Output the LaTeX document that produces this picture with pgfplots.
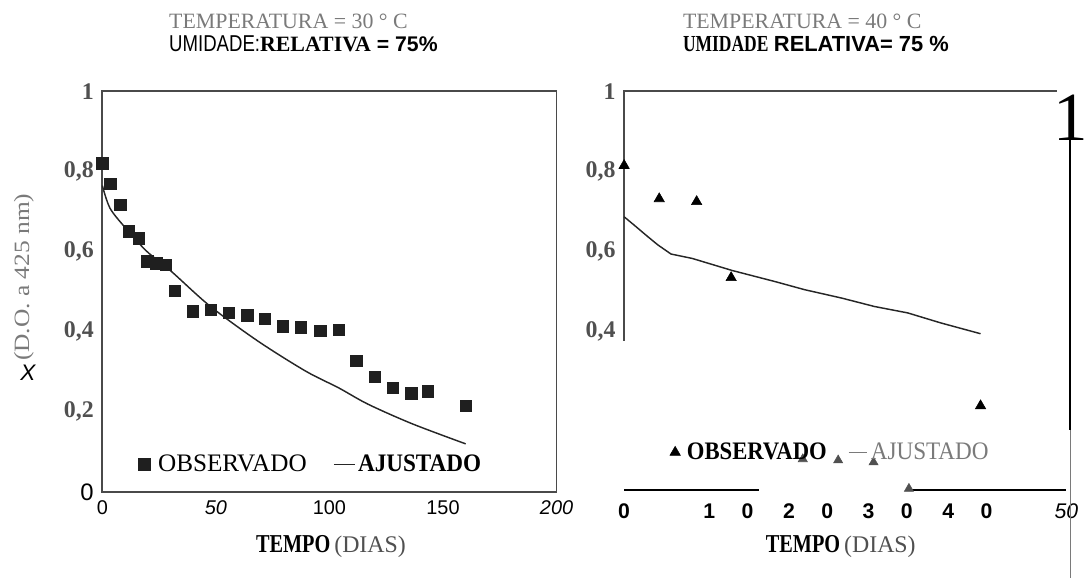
\documentclass[border=0pt]{standalone}
\usepackage{fontspec}
\setmainfont{Liberation Serif}
\setsansfont{Liberation Sans}
\usepackage{graphicx}
\usepackage{pgfplots}
\pgfplotsset{compat=1.18}
\definecolor{tg}{HTML}{505050}
\definecolor{lg}{HTML}{7A7A7A}
\definecolor{axgray}{HTML}{4A4A4A}
\begin{document}
\begin{tikzpicture}
\begin{scope}[x=0.75pt,y=0.75pt]
\path[use as bounding box] (0,0) rectangle (1088,582);

% titles
\node[anchor=west, text=lg, inner sep=0pt] at (170,561) {\fontsize{16.5}{17}\selectfont TEMPERATURA = 30 ° C};
\node[anchor=west, inner sep=0pt] at (170,538) {\fontsize{16.5}{17}\selectfont{\sffamily\scalebox{0.85}[1.05]{UMIDADE:}}{\bfseries RELATIVA}{\sffamily\bfseries\fontsize{16}{17}\selectfont{} = 75\%}};
\node[anchor=west, text=lg, inner sep=0pt] at (687,561) {\fontsize{16.5}{17}\selectfont TEMPERATURA = 40 ° C};
\node[anchor=west, inner sep=0pt] at (687,538) {\fontsize{16.5}{17}\selectfont{\bfseries\scalebox{0.8}[1.05]{UMIDADE}} {\sffamily\bfseries RELATIVA= 75 \%}};

% y label
\node[rotate=90, text=lg, inner sep=0pt] at (24,303) {\fontsize{15}{17}\selectfont\scalebox{1.28}[1.1]{(D.O. a 425 nm)}};
\node[inner sep=0pt] at (28,207) {\sffamily\itshape\fontsize{17}{19}\selectfont X};

% x labels
\node[inner sep=0pt] at (333,32) {\fontsize{18}{20}\selectfont{\bfseries\scalebox{0.85}[1.08]{TEMPO}}\,{\color{tg}(DIAS)}};
\node[inner sep=0pt] at (846,32) {\fontsize{18}{20}\selectfont{\bfseries\scalebox{0.85}[1.08]{TEMPO}}\,{\color{tg}(DIAS)}};
\end{scope}

% ---------- left panel ----------
\begin{axis}[
 at={(77.25pt,65.25pt)}, anchor=south west, scale only axis,
 width=342.75pt, height=302.25pt,
 xmin=0, xmax=200, ymin=0, ymax=1,
 axis line style={draw=axgray, line width=1.4pt},
 major tick length=0pt, tick style={draw=none},
 xtick={0,50,100,150,200},
 xticklabels={0,{\itshape 50},100,150,{\itshape 200}},
 xticklabel style={font=\sffamily\fontsize{15}{17}\selectfont, yshift=-3pt},
 ytick={0,0.2,0.4,0.6,0.8,1},
 yticklabels={{\sffamily\mdseries\color{black}0},0{,}2,0{,}4,0{,}6,0{,}8,1},
 yticklabel style={font=\bfseries\fontsize{18}{20}\selectfont, text=tg, xshift=-3pt},
 clip=false,
 legend columns=2,
 legend style={at={(0.46,0.069)}, anchor=center, draw=none, fill=none,
   font=\fontsize{19}{21}\selectfont, inner sep=0pt,
   /tikz/every even column/.append style={column sep=18pt},
   /tikz/every odd column/.append style={column sep=0pt}},
]
\addplot[only marks, mark=square*, mark size=4.3pt, color=black!88] coordinates {
(0,0.821) (3.5,0.769) (7.9,0.717) (11.6,0.651) (16,0.633) (19.7,0.576)
(23.8,0.571) (27.9,0.567) (31.9,0.502) (39.7,0.451) (47.8,0.455) (55.7,0.447)
(63.8,0.441) (71.6,0.432) (79.4,0.414) (87.5,0.411) (95.9,0.403) (104,0.405)
(111.8,0.327) (119.9,0.287) (127.9,0.260) (136,0.246) (143.4,0.251) (160,0.215)
};
\addlegendentry{\hspace{4pt}OBSERVADO}
\addplot[smooth, line width=1.1pt, color=black!85, mark=none,
  legend image code/.code={\draw[line width=1.1pt] (0cm,0cm) -- (0.55cm,0cm);}] coordinates {
(0,0.765) (3.5,0.707) (11.6,0.650) (19.7,0.600) (30.3,0.551) (47.4,0.464)
(68.4,0.377) (89.4,0.302) (104,0.260) (117,0.219) (136.5,0.170) (160,0.120)
};
\addlegendentry{\bfseries\scalebox{0.92}[1]{AJUSTADO}}
\end{axis}

% ---------- right panel ----------
\begin{axis}[
 at={(471pt,65.25pt)}, anchor=south west, scale only axis,
 width=333.75pt, height=302.25pt,
 xmin=0, xmax=50, ymin=0, ymax=1,
 axis line style={draw=none},
 major tick length=0pt, tick style={draw=none},
 xtick={0,11.8,20.8,29.8,38.8,50},
 xticklabels={0,1\hspace{20pt}0,2\hspace{20pt}0,3\hspace{20pt}0,4\hspace{20pt}0,{\mdseries\itshape 50}},
 xticklabel style={font=\sffamily\bfseries\fontsize{16}{18}\selectfont, yshift=-5pt},
 ytick={0.4,0.6,0.8,1},
 yticklabels={0{,}4,0{,}6,0{,}8,1},
 yticklabel style={font=\bfseries\fontsize{18}{20}\selectfont, text=tg, xshift=-3pt},
 clip=false,
 legend columns=2,
 legend style={at={(0.467,0.099)}, anchor=center, draw=none, fill=none,
   font=\fontsize{19}{21}\selectfont, inner sep=0pt,
   /tikz/every even column/.append style={column sep=14pt}},
]
\draw[axgray, line width=1.4pt] (axis cs:0,0.377) -- (axis cs:0,1) -- (axis cs:48.9,1);
\draw[black, line width=1.5pt] (axis cs:0,0.005) -- (axis cs:15.2,0.005);
\draw[black, line width=1.5pt] (axis cs:32.0,0.005) -- (axis cs:50,0.005);
\draw[black, line width=1.5pt] (axis cs:50.45,0.88) -- (axis cs:50.45,0.154);
\draw[lg, line width=1pt] (axis cs:50.5,0.154) -- (axis cs:50.5,-0.216);
\node[inner sep=0pt] at (axis cs:50.5,0.935) {\fontsize{52}{54}\selectfont 1};

\addplot[only marks, mark=triangle*, mark size=4.5pt, color=black] coordinates {
(0,0.815) (3.97,0.732) (8.2,0.725) (12.1,0.535) (40.3,0.215)
};
\addlegendentry{\hspace{3pt}\bfseries\scalebox{0.9}[1]{OBSERVADO}}
\addplot[only marks, mark=triangle*, mark size=4pt, color=tg, forget plot] coordinates {
(20.2,0.082) (24.2,0.079) (28.2,0.074) (32.2,0.008)
};
\addplot[line width=1.1pt, color=black!85, mark=none,
  legend image code/.code={\draw[lg, line width=1pt] (0cm,0cm) -- (0.5cm,0cm);}] coordinates {
(0,0.687) (1.2,0.665) (2.48,0.641) (3.8,0.617) (5.3,0.594) (7.7,0.583) (12.2,0.553) (17.1,0.525)
(20.4,0.505) (24.6,0.484) (28.3,0.463) (32.06,0.447) (35.8,0.422) (40.3,0.395)
};
\addlegendentry{\color{lg}\scalebox{0.92}[1]{AJUSTADO}}
\end{axis}
\end{tikzpicture}
\end{document}
